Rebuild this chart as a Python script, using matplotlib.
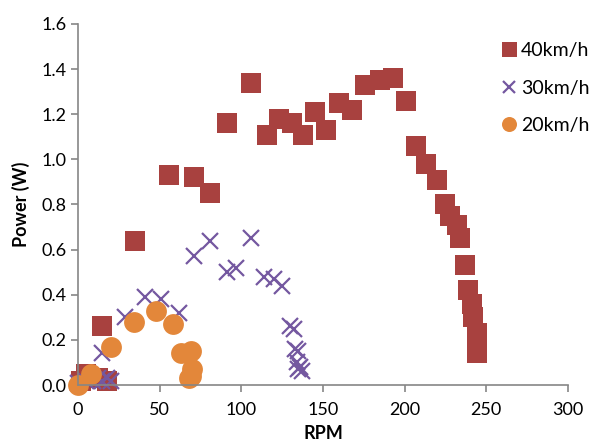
import matplotlib.pyplot as plt

# 40km/h series (RPM, Power W)
rpm_40 = [2, 5, 12, 18, 15, 35, 56, 71, 81, 91, 106, 116, 123, 131, 138, 145, 152,
          160, 168, 176, 185, 193, 201, 207, 213, 220, 225, 228, 232, 234, 237, 239,
          241, 242, 244, 244, 244]
pwr_40 = [0.02, 0.05, 0.03, 0.02, 0.26, 0.64, 0.93, 0.92, 0.85, 1.16, 1.34, 1.11, 1.18,
          1.16, 1.11, 1.21, 1.13, 1.25, 1.22, 1.33, 1.35, 1.36, 1.26, 1.06, 0.98, 0.91,
          0.80, 0.75, 0.71, 0.65, 0.53, 0.42, 0.36, 0.30, 0.23, 0.16, 0.14]

# 30km/h series
rpm_30 = [0, 5, 9, 12, 15, 18, 20, 15, 29, 41, 51, 62, 71, 81, 91, 97, 106, 114, 120,
          125, 130, 132, 133, 135, 134, 136, 135, 137]
pwr_30 = [0.01, 0.02, 0.02, 0.03, 0.02, 0.03, 0.02, 0.14, 0.30, 0.39, 0.38, 0.32, 0.57,
          0.64, 0.50, 0.52, 0.65, 0.48, 0.47, 0.44, 0.26, 0.25, 0.16, 0.15, 0.10, 0.08,
          0.07, 0.06]

# 20km/h series
rpm_20 = [0, 8, 20, 34, 48, 58, 63, 69, 70, 69, 68]
pwr_20 = [0.0, 0.05, 0.17, 0.28, 0.33, 0.27, 0.14, 0.15, 0.07, 0.04, 0.03]

plt.rcParams['font.family'] = ['Lato', 'DejaVu Sans']

fig = plt.figure(figsize=(5.94, 4.45), dpi=100)
ax = fig.add_axes([0.1313, 0.1348, 0.8249, 0.8113])

ax.plot(rpm_40, pwr_40, 's', color='#A8413F', markersize=15, markeredgewidth=0,
        label='40km/h', clip_on=False)
ax.plot(rpm_30, pwr_30, 'x', color='#7458A0', markersize=12, markeredgewidth=1.6,
        label='30km/h', clip_on=False)
ax.plot(rpm_20, pwr_20, 'o', color='#E3873A', markersize=15, markeredgewidth=0,
        label='20km/h', clip_on=False)

ax.set_xlim(0, 300)
ax.set_ylim(0, 1.6)
ax.set_xticks(range(0, 301, 50))
ax.set_yticks([i * 0.2 for i in range(9)])
ax.set_yticklabels(['%.1f' % (i * 0.2) for i in range(9)])

for s in ['top', 'right']:
    ax.spines[s].set_visible(False)
for s in ['left', 'bottom']:
    ax.spines[s].set_color('#868686')
    ax.spines[s].set_linewidth(1.2)
ax.tick_params(colors='#868686', labelcolor='black', labelsize=13, length=5, width=1.2)
ax.tick_params(axis='x', pad=7)

ax.set_xlabel('RPM', fontsize=13, fontweight='bold', labelpad=5)
ax.set_ylabel('Power (W)', fontsize=13, fontweight='bold', labelpad=8)

leg = fig.legend(loc='upper left', bbox_to_anchor=(0.843, 0.905), frameon=False,
                 fontsize=14, handletextpad=0.15, labelspacing=1.05, markerscale=0.72,
                 handlelength=0.9, borderpad=0, borderaxespad=0)

fig.savefig('out.png', dpi=100)
